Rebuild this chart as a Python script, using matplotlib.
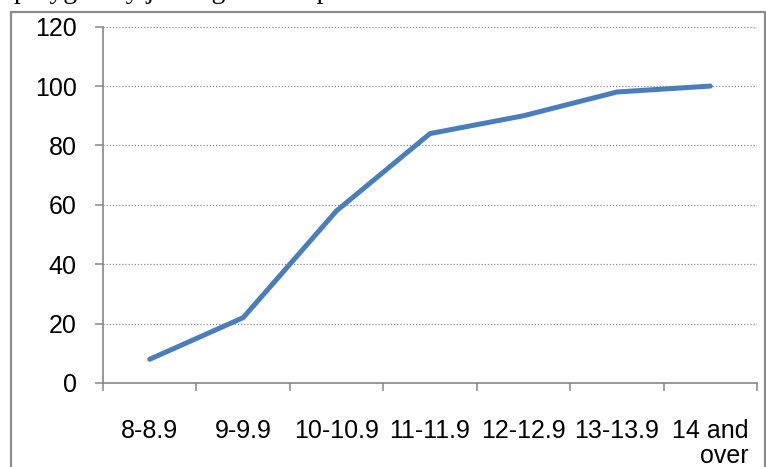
import numpy as np
import matplotlib
matplotlib.use('Agg')
import matplotlib.pyplot as plt
from matplotlib.patches import Rectangle

plt.rcParams.update({
    'font.family': ['Liberation Sans Narrow', 'Liberation Sans', 'DejaVu Sans'],
    'font.size': 18,
})

# ===================== DATA =====================
classes = ['8-8.9', '9-9.9', '10-10.9', '11-11.9', '12-12.9', '13-13.9', '14 and\nover']
cum_pct = [8, 22, 58, 84, 90, 98, 100]
y_ticks = [0, 20, 40, 60, 80, 100, 120]

# ===================== PLOT =====================
fig = plt.figure(figsize=(7.66, 4.67), dpi=100)
ax = fig.add_axes([103/766, 1 - 383/467, (757 - 103)/766, (383 - 26.7)/467])

grey = '#868686'

# chart area border (cut off at the bottom)
fig.patches.append(Rectangle((11/766, -0.2), (765 - 11)/766, 1.2 - 12/467,
                             transform=fig.transFigure, fill=False,
                             edgecolor='#8c8c8c', lw=1.6, zorder=0))

# leftover text line from the page above the chart
fig.text(14/766, 1 + 2.5/467, 'polygon by joining the midpoints',
         family='Liberation Serif', fontsize=20, va='baseline', ha='left')

x = np.arange(len(classes))
ax.plot(x, cum_pct, color='#4a7ebb', lw=3.6, solid_capstyle='round',
        solid_joinstyle='round', zorder=3)

ax.set_xlim(-0.5, len(classes) - 0.5)
ax.set_ylim(0, 120)
ax.set_yticks(y_ticks)
ax.set_yticklabels([str(v) for v in y_ticks])
for v in y_ticks[1:]:
    ax.axhline(v, color='#8c8c8c', lw=0.9, ls=(0, (1, 1.5)), zorder=1)

ax.set_xticks(np.arange(len(classes) + 1) - 0.5)
ax.set_xticklabels([])
ax.set_xticks(x, minor=True)
ax.set_xticklabels(classes, minor=True, multialignment='right', linespacing=1.05)
ax.tick_params(axis='x', which='minor', length=0, pad=26)
ax.tick_params(axis='x', which='major', length=6, width=1.1, color=grey, direction='out')
ax.tick_params(axis='y', length=6, width=1.1, color=grey, direction='out', pad=13)

for s in ['top', 'right']:
    ax.spines[s].set_visible(False)
for s in ['left', 'bottom']:
    ax.spines[s].set_color(grey)
    ax.spines[s].set_linewidth(1.2)

fig.savefig('out.png', dpi=100)
